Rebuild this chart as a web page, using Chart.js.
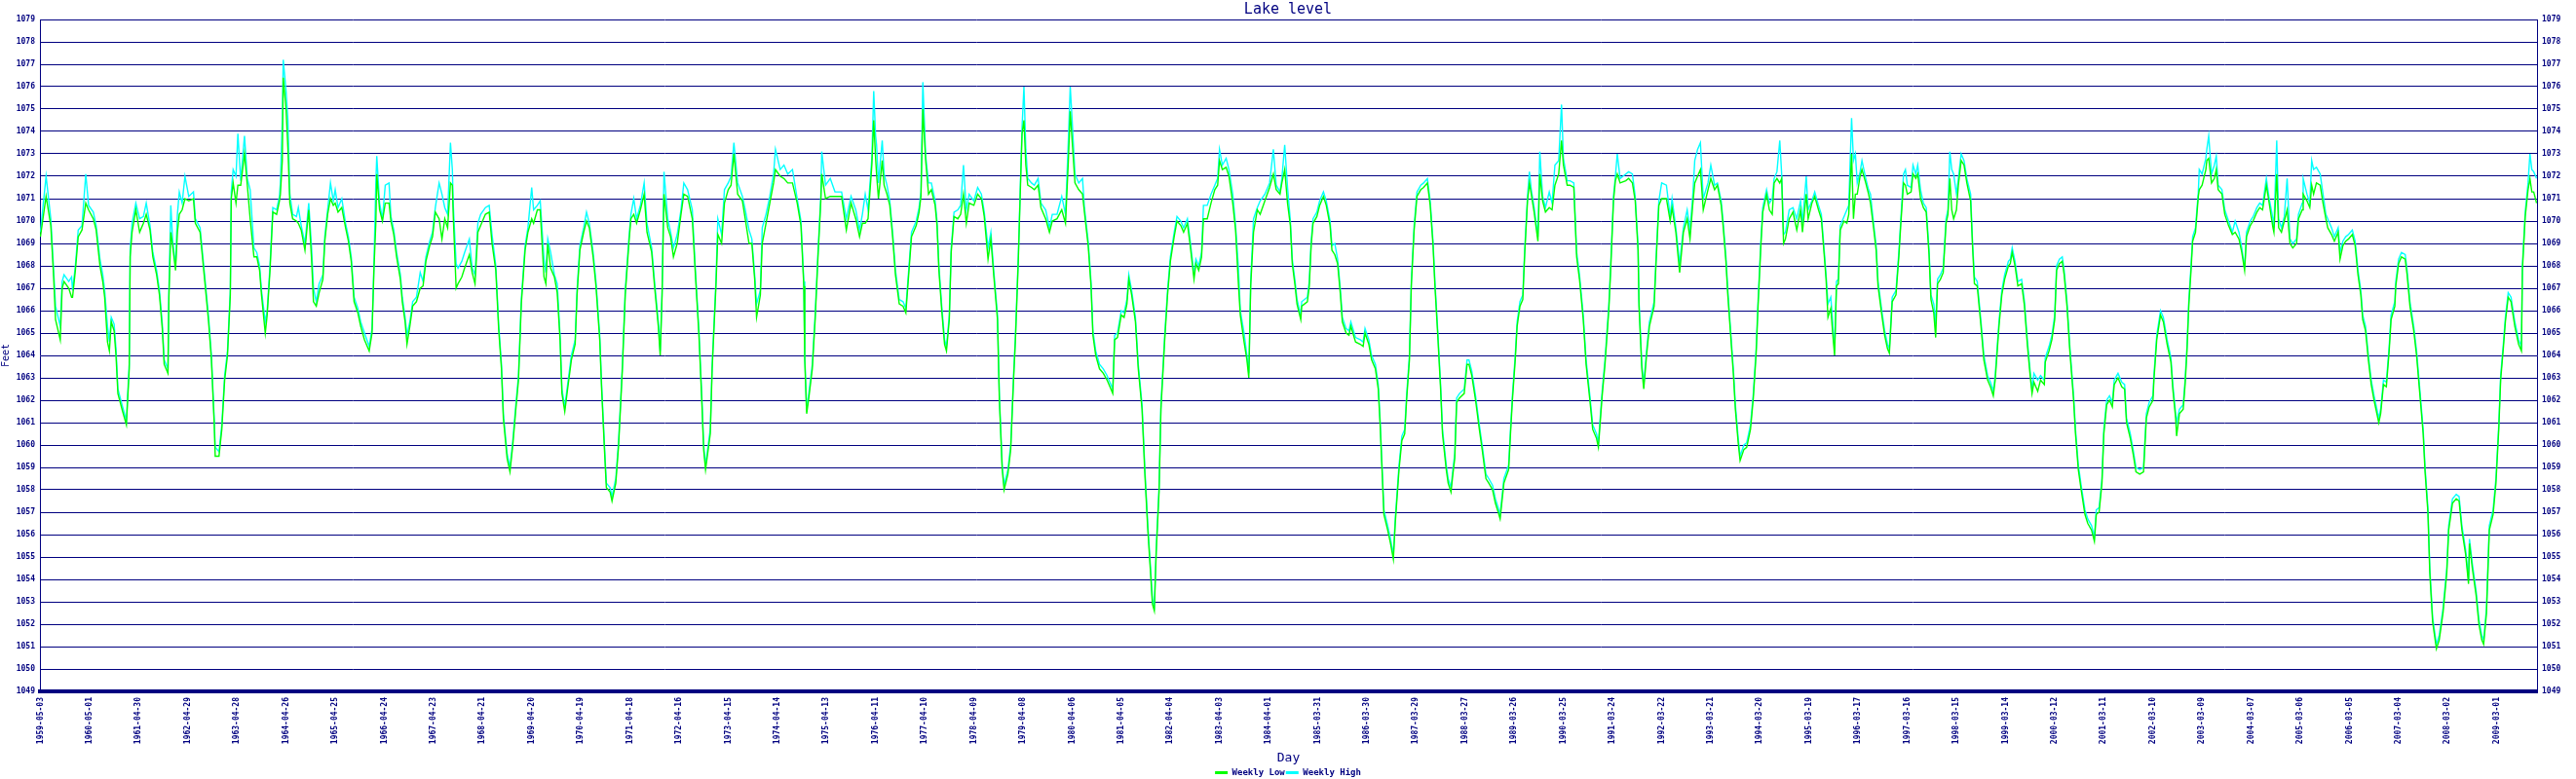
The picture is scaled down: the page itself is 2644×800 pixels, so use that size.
<!DOCTYPE html>
<html><head><meta charset="utf-8">
<script src="https://cdn.jsdelivr.net/npm/chart.js@4/dist/chart.umd.min.js"></script>
<style>html,body{margin:0;padding:0;background:#fff;}canvas{display:block;}</style>
</head><body>
<canvas id="c" width="2644" height="800"></canvas>
<script>
// x = week number counted from 1959-05-03 (weekly readings)
const weeks = [
0,6,11,14,16,21,23,25,30,33,
34,37,40,44,48,51,56,59,63,66,
68,71,73,75,78,80,82,87,91,94,
95,97,101,105,109,112,116,119,123,126,
129,131,135,136,138,140,143,145,147,150,
153,157,162,164,169,174,178,181,184,185,
189,192,195,198,201,202,204,207,209,212,
216,219,222,226,229,232,234,238,240,243,
246,250,253,254,256,257,260,262,264,267,
271,273,276,280,284,287,289,292,295,299,
301,304,307,310,312,315,319,323,326,329,
332,336,339,343,348,351,353,355,356,359,
362,365,369,371,374,377,381,383,386,388,
391,394,398,402,405,408,412,415,418,422,
425,428,431,434,436,
437,440,442,446,449,454,457,460,463,466,
471,475,478,482,485,488,490,494,497,500,
503,506,509,513,516,520,522,526,529,533,
535,537,540,544,547,550,552,555,558,562,
566,568,571,575,578,581,585,588,592,594,
597,599,603,605,609,612,616,619,623,625,
628,631,635,639,642,647,650,654,656,658,
660,664,667,670,674,678,681,685,690,693,
697,700,702,704,709,711,715,717,721,724,
728,731,734,738,743,746,750,753,756,758,
762,764,768,772,776,778,783,787,791,796,
801,805,808,809,811,813,817,820,823,826,
827,831,836,841,848,853,858,863,867,870,
873,876,880,882,884,
885,887,891,893,896,899,902,905,909,913,
916,919,922,927,930,932,934,937,940,943,
947,949,951,954,957,959,962,964,967,971,
974,977,980,983,988,992,996,999,1003,1006,
1009,1013,1015,1018,1020,1024,1027,1030,1032,1035,
1037,1039,1041,1043,1045,1049,1052,1056,1059,1064,
1068,1071,1076,1081,1085,1088,1090,1092,1095,1099,
1103,1105,1109,1112,1114,1117,1121,1125,1129,1135,
1137,1140,1144,1147,1150,1152,1155,1159,1162,1166,
1169,1172,1175,1177,1179,1181,1184,1186,1190,1193,
1196,1200,1203,1207,1210,1214,1217,1221,1223,1226,
1229,1231,1235,1239,1243,1246,1248,1251,1255,1258,
1262,1265,1268,1270,1274,1277,1279,1281,1284,1288,
1291,1296,1301,1305,1308,1312,1314,1317,
1320,1323,1325,1328,1330,1334,1335,1341,1343,1345,
1347,1351,1354,1358,1361,1365,1367,1370,1373,1376,
1378,1382,1385,1387,1392,1397,1400,1402,1406,1409,
1413,1416,1418,1420,1422,1426,1429,1432,1434,1438,
1441,1444,1446,1449,1451,1454,1457,1461,1464,1468,
1471,1474,1476,1479,1482,1484,1488,1490,1493,1495,
1497,1499,1502,1507,1510,1512,1515,1519,1523,1526,
1530,1533,1537,1540,1543,1545,1549,1554,1556,1558,
1561,1563,1566,1569,1571,1574,1576,1578,1581,1585,
1587,1590,1593,1597,1600,1603,1607,1610,1612,1616,
1619,1623,1626,1629,1633,1636,1640,1643,1647,1649,
1653,1656,1660,1662,1665,1667,1669,1672,1678,1681,
1685,1688,1691,1692,1695,1697,1700,1703,1708,1710,
1713,1716,1721,1725,1727,1731,1735,1739,1743,1746,
1749,1751,1754,1757,1760,
1765,1768,1772,1775,1779,1781,1784,1786,1789,1792,
1794,1797,1799,1803,1806,1810,1813,1816,1818,1821,
1823,1827,1830,1833,1835,1838,1841,1843,1845,1847,
1851,1855,1859,1863,1865,1869,1871,1875,1878,1882,
1885,1888,1890,1892,1895,1897,1899,1901,1903,1905,
1909,1912,1914,1917,1919,1921,1923,1926,1928,1932,
1935,1937,1940,1943,1945,1949,1952,1955,1957,1960,
1964,1967,1969,1972,1974,1976,1980,1982,1985,1987,
1990,1993,1996,1999,2001,2004,2006,2008,2011,2014,
2017,2019,2021,2023,2025,2028,2030,2033,2036,2039,
2043,2045,2047,2050,2054,2057,2061,2064,2067,2069,
2073,2076,2079,2083,2085,2087,2090,2093,2097,2100,
2103,2106,2108,2110,2114,2117,2121,2122,2126,2129,
2132,2134,2137,2140,2142,2145,2148,2152,2154,2157,
2160,2164,2167,2171,2174,2176,2179,2182,2184,2187,
2190,2193,2195,2199,
2203,2206,2208,2212,2215,2218,2222,2226,2229,2232,
2236,2237,2240,2244,2247,2251,2255,2257,2260,2261,
2264,2268,2270,2272,2274,2276,2278,2281,2284,2285,
2288,2292,2293,2295,2298,2301,2303,2305,2309,2312,
2316,2320,2323,2327,2330,2333,2335,2339,2342,2346,
2349,2352,2356,2359,2363,2364,2367,2369,2372,2375,
2378,2381,2384,2388,2390,2394,2395,2399,2402,2404,
2406,2409,2413,2416,2419,2421,2425,2428,2432,2434,
2437,2440,2443,2447,2450,2453,2456,2458,2461,2464,
2467,2470,2473,2475,2477,2480,2483,2486,2488,2492,
2493,2496,2499,2503,2505,2508,2512,2515,2518,2522,
2524,2527,2529,2532,2536,2539,2543,2547,2549,2553,
2557,2560,2563,2567,2570,2571,2574,2578,2581,2584,
2586,2589,2592,2596,2599,2602,2604,2607,2609,2612,
2615,2619,2623,2626,2627,2630,2633,2635,2637,2639,
2642
];

const weeklyLow = [
1069.3,1071.1,1069.8,1067.5,1065.6,1064.7,1067.0,1067.3,1067.0,1066.6,
1066.6,1067.8,1069.3,1069.6,1070.8,1070.5,1070.1,1069.6,1068.0,1067.3,
1066.6,1064.6,1064.2,1065.5,1065.1,1064.0,1062.3,1061.5,1060.9,1063.4,
1068.4,1069.5,1070.5,1069.5,1069.9,1070.3,1069.6,1068.4,1067.6,1066.7,
1065.2,1063.6,1063.2,1066.6,1069.5,1068.9,1067.8,1069.5,1070.3,1070.5,
1071.0,1070.9,1071.0,1069.9,1069.5,1067.3,1065.5,1063.8,1060.9,1059.5,
1059.5,1060.7,1062.9,1064.0,1066.7,1071.0,1071.7,1070.8,1071.6,1071.6,
1073.0,1071.6,1070.1,1068.4,1068.4,1067.8,1066.7,1065.0,1065.8,1067.8,
1070.4,1070.3,1070.9,1071.2,1072.7,1076.4,1075.0,1073.2,1070.8,1070.1,
1070.0,1069.9,1069.6,1068.7,1070.5,1068.3,1066.4,1066.2,1066.8,1067.4,
1069.1,1070.3,1071.0,1070.7,1070.8,1070.4,1070.6,1069.7,1069.1,1068.2,
1066.4,1065.9,1065.3,1064.7,1064.2,1065.0,1067.8,1069.9,1072.1,1070.5,
1070.0,1070.8,1070.8,1070.0,1069.4,1068.4,1067.4,1066.4,1065.5,1064.5,
1065.3,1066.2,1066.4,1067.0,1067.1,1068.2,1068.9,1069.3,1070.4,1070.1,
1069.2,1070.1,1069.7,1071.7,1071.6,
1070.2,1067.0,1067.2,1067.5,1067.9,1068.5,1067.7,1067.2,1069.5,1069.8,
1070.3,1070.4,1069.0,1067.8,1065.2,1063.4,1061.2,1059.4,1058.8,1060.0,
1061.5,1062.9,1066.3,1068.7,1069.5,1070.1,1069.9,1070.5,1070.5,1067.5,
1067.2,1069.0,1067.9,1067.5,1066.8,1064.7,1062.3,1061.5,1062.5,1063.8,
1064.5,1066.7,1068.7,1069.5,1070.0,1069.7,1068.4,1067.1,1064.7,1062.5,
1059.8,1058.1,1057.9,1057.5,1058.3,1060.0,1063.4,1066.7,1069.1,1070.1,
1070.3,1069.9,1070.5,1071.2,1069.5,1068.6,1067.1,1065.3,1064.0,1066.7,
1071.2,1069.7,1069.3,1068.4,1069.0,1070.3,1071.2,1071.1,1070.1,1067.8,
1064.9,1062.0,1059.8,1058.9,1060.5,1063.4,1067.1,1069.4,1069.0,1070.8,
1071.4,1071.6,1073.0,1071.2,1070.9,1070.1,1069.0,1069.0,1067.4,1065.7,
1066.7,1069.0,1069.9,1070.8,1071.7,1072.3,1072.0,1071.9,1071.7,1071.7,
1070.8,1069.8,1067.1,1063.8,1061.4,1062.0,1063.4,1065.6,1068.4,1070.9,
1072.1,1071.0,1071.1,1071.1,1071.1,1069.6,1070.8,1070.1,1069.3,1069.9,
1069.9,1070.1,1072.5,1074.5,1072.8,
1072.1,1071.0,1072.7,1071.6,1071.2,1070.7,1069.3,1067.6,1066.3,1066.2,
1065.9,1067.6,1069.3,1069.8,1070.4,1071.1,1075.0,1072.7,1071.2,1071.4,
1070.7,1069.8,1067.8,1066.0,1064.5,1064.2,1065.6,1068.6,1070.2,1070.1,
1070.3,1071.2,1069.9,1070.8,1070.7,1071.2,1071.0,1070.2,1068.3,1069.2,
1067.6,1065.6,1062.0,1058.9,1058.0,1058.7,1059.8,1062.9,1064.7,1068.2,
1071.1,1073.9,1074.5,1072.5,1071.6,1071.5,1071.4,1071.6,1070.6,1070.1,
1069.5,1070.0,1070.1,1070.5,1069.9,1072.7,1074.9,1073.6,1071.7,1071.4,
1071.2,1070.4,1068.9,1067.1,1064.9,1064.0,1063.4,1063.2,1062.9,1062.3,
1064.7,1064.8,1065.8,1065.7,1066.3,1067.4,1066.7,1065.5,1063.4,1061.6,
1058.7,1056.3,1054.3,1052.9,1052.6,1055.2,1057.9,1061.6,1064.7,1066.7,
1068.2,1069.3,1070.0,1069.8,1069.5,1069.9,1068.9,1067.4,1068.1,1067.8,
1068.4,1070.1,1070.1,1070.8,1071.4,1071.6,1072.7,1072.3,1072.4,1072.0,
1070.8,1069.6,1067.2,1065.8,1064.6,1063.8,1063.0,1067.1,1069.5,1070.5,
1070.3,1070.9,1071.5,1072.1,1071.4,1071.2,1071.7,1072.3,
1070.8,1069.8,1068.1,1067.1,1066.3,1065.6,1066.2,1066.4,1067.1,1068.9,
1069.9,1070.2,1070.7,1071.1,1070.7,1069.8,1068.7,1068.5,1068.1,1066.7,
1065.5,1065.0,1064.9,1065.3,1064.6,1064.5,1064.4,1065.0,1064.5,1063.8,
1063.4,1062.5,1060.9,1058.9,1056.9,1056.2,1055.6,1054.9,1056.5,1058.9,
1060.2,1060.5,1062.0,1063.8,1067.1,1069.6,1071.1,1071.4,1071.5,1071.7,
1070.7,1068.9,1067.1,1064.9,1062.5,1060.5,1058.9,1058.3,1057.9,1058.7,
1059.4,1061.9,1062.1,1062.3,1063.6,1063.6,1063.1,1062.0,1060.7,1059.8,
1058.5,1058.3,1058.0,1057.4,1057.0,1056.7,1058.3,1058.9,1060.5,1062.0,
1063.8,1065.3,1066.2,1066.5,1068.5,1070.9,1071.7,1071.2,1070.4,1069.1,
1072.1,1070.9,1070.4,1070.6,1070.5,1071.6,1072.1,1073.6,1072.5,1071.6,
1071.6,1071.5,1068.4,1067.4,1065.6,1063.6,1062.0,1060.7,1060.3,1059.9,
1062.2,1063.6,1066.0,1067.8,1070.9,1071.8,1072.1,1071.7,1071.8,1071.9,
1071.7,1070.9,1068.7,1066.2,1063.4,1062.5,1064.0,1065.3,1066.2,1068.1,
1070.7,1071.0,1071.0,1070.0,1070.6,1069.5,1067.7,1069.5,1070.1,1069.2,
1070.8,1071.7,1072.0,1072.3,1070.5,
1071.4,1071.9,1071.4,1071.6,1070.7,1069.8,1068.2,1066.7,1064.9,1063.1,
1061.6,1060.1,1059.3,1059.8,1059.9,1060.7,1062.1,1064.1,1066.2,1068.9,
1070.4,1071.2,1070.5,1070.3,1071.7,1071.9,1071.7,1071.9,1069.0,1069.2,
1070.1,1070.4,1069.6,1070.5,1069.5,1071.2,1070.1,1070.8,1071.1,1070.5,
1070.1,1068.5,1067.4,1065.7,1066.1,1065.0,1064.0,1067.1,1067.2,1069.6,
1070.0,1069.9,1070.3,1073.0,1070.1,1071.2,1071.2,1072.0,1072.3,1071.7,
1071.2,1070.8,1069.8,1068.7,1067.1,1065.8,1064.9,1064.3,1064.1,1066.4,
1066.7,1068.4,1069.8,1071.7,1071.6,1071.2,1071.3,1072.1,1071.9,1072.1,
1071.0,1070.6,1070.4,1068.5,1066.5,1065.9,1064.8,1067.2,1067.4,1067.7,
1069.9,1070.3,1071.9,1070.5,1070.1,1070.5,1071.6,1072.7,1072.5,1071.7,
1070.9,1068.9,1067.2,1067.1,1065.3,1063.8,1062.9,1062.6,1062.2,1062.9,
1065.3,1066.7,1067.4,1068.0,1068.1,1068.6,1068.0,1067.1,1067.2,1066.2,
1064.5,1063.1,1062.3,1062.8,1062.4,1062.9,1062.7,1063.7,1064.2,1064.7,
1065.6,1067.8,1068.1,1068.2,1067.6,1066.2,1064.2,1062.0,1060.5,1058.9,
1058.0,1056.9,1056.5,1056.2,1055.7,1056.9,1057.0,1058.3,1060.5,1061.8,
1062.0,1061.7,1062.7,1063.0,
1062.6,1062.5,1061.0,1060.3,1059.6,1058.8,1058.7,1058.8,1061.2,1061.7,
1062.0,1062.9,1064.7,1065.8,1065.5,1064.5,1063.7,1062.5,1061.2,1060.4,
1061.4,1061.6,1062.7,1064.2,1066.3,1067.6,1069.1,1069.5,1071.1,1071.4,
1071.6,1072.3,1072.7,1072.8,1071.7,1071.9,1072.3,1071.4,1071.2,1070.3,
1069.8,1069.4,1069.5,1069.2,1068.6,1067.8,1069.3,1069.8,1070.0,1070.4,
1070.6,1070.5,1071.6,1070.8,1069.7,1069.5,1072.1,1069.7,1069.5,1070.0,
1070.5,1069.0,1068.8,1069.0,1070.1,1070.5,1071.2,1070.9,1070.6,1071.6,
1071.2,1071.7,1071.6,1070.8,1070.1,1069.7,1069.4,1069.1,1069.5,1068.3,
1068.9,1069.1,1069.2,1069.4,1068.9,1067.6,1066.7,1065.6,1065.1,1063.8,
1062.7,1062.0,1061.4,1061.0,1061.4,1062.7,1062.6,1064.2,1065.6,1066.2,
1067.1,1068.1,1068.4,1068.3,1067.6,1066.2,1065.1,1064.0,1062.5,1060.5,
1058.8,1057.0,1054.3,1052.1,1050.9,1051.3,1052.5,1054.3,1056.2,1057.4,
1057.6,1057.5,1056.2,1055.1,1053.8,1055.6,1054.5,1053.3,1052.0,1051.3,
1051.1,1052.5,1056.2,1056.9,1058.3,1060.7,1062.9,1064.4,1065.5,1066.6,
1066.4,1065.3,1064.5,1064.2,1067.8,1070.2,1071.4,1071.9,1071.3,1071.3,
1070.8
];

const weeklyHigh = [
1069.5,1072.0,1070.1,1067.8,1066.2,1065.3,1067.3,1067.6,1067.3,1067.5,
1066.9,1068.0,1069.6,1069.8,1072.1,1070.7,1070.4,1069.8,1068.3,1067.6,
1066.9,1065.3,1064.6,1065.7,1065.4,1064.3,1062.5,1061.7,1061.1,1063.6,
1068.7,1069.9,1070.8,1070.1,1070.2,1070.8,1069.8,1068.6,1067.8,1066.9,
1065.4,1063.8,1063.4,1066.9,1070.7,1069.1,1068.0,1070.3,1071.3,1070.8,
1072.0,1071.1,1071.3,1070.1,1069.7,1067.5,1065.7,1064.0,1061.1,1059.9,
1059.7,1060.9,1063.1,1064.2,1066.9,1071.3,1072.3,1072.0,1073.9,1071.8,
1073.8,1071.9,1071.4,1068.8,1068.6,1068.0,1066.9,1065.5,1066.0,1068.0,
1070.6,1070.5,1071.1,1071.7,1074.5,1077.2,1075.8,1074.5,1071.2,1070.3,
1070.2,1070.6,1069.8,1069.0,1070.8,1068.8,1067.0,1066.4,1067.2,1067.6,
1069.3,1070.5,1071.7,1070.9,1071.4,1070.6,1071.0,1069.9,1069.3,1068.4,
1066.6,1066.1,1065.5,1065.0,1064.4,1065.2,1068.0,1071.7,1072.9,1070.8,
1070.1,1071.6,1071.7,1070.2,1069.6,1068.6,1067.6,1066.6,1065.7,1064.9,
1065.5,1066.4,1066.6,1067.7,1067.3,1068.4,1069.1,1069.5,1070.6,1071.7,
1071.2,1070.6,1070.3,1073.5,1072.3,
1070.7,1068.1,1067.9,1068.2,1068.6,1069.2,1067.9,1067.6,1069.9,1070.3,
1070.6,1070.7,1069.4,1068.0,1065.4,1063.6,1061.4,1059.6,1059.0,1060.2,
1061.7,1063.1,1066.5,1068.9,1069.7,1071.5,1070.5,1070.7,1070.9,1068.3,
1067.7,1069.2,1068.6,1067.6,1067.2,1064.9,1062.5,1061.7,1062.7,1064.0,
1064.7,1066.9,1068.9,1069.7,1070.4,1069.9,1068.6,1067.3,1064.9,1062.7,
1060.0,1058.3,1058.1,1057.7,1058.5,1060.2,1063.6,1066.9,1069.3,1070.3,
1071.0,1070.1,1070.7,1071.7,1069.9,1068.8,1067.3,1065.5,1064.2,1066.9,
1072.2,1070.1,1069.5,1068.8,1069.4,1070.5,1071.7,1071.4,1070.5,1068.0,
1065.1,1062.2,1060.0,1059.1,1060.7,1063.6,1067.3,1070.1,1069.4,1071.4,
1071.7,1072.0,1073.5,1071.7,1071.1,1070.5,1069.6,1069.2,1067.6,1066.3,
1066.9,1069.7,1070.3,1071.1,1072.1,1073.2,1072.3,1072.5,1072.1,1072.3,
1071.0,1070.0,1067.3,1064.0,1061.6,1062.2,1063.6,1065.8,1068.6,1071.1,
1073.1,1071.6,1071.9,1071.3,1071.3,1070.1,1071.1,1070.5,1069.6,1070.3,
1071.2,1070.5,1072.8,1075.8,1073.8,
1073.4,1071.7,1073.6,1072.1,1071.6,1070.9,1069.5,1067.8,1066.5,1066.4,
1066.1,1067.8,1069.5,1070.0,1070.6,1071.3,1076.2,1072.9,1071.7,1071.7,
1070.9,1070.0,1068.0,1066.2,1064.7,1064.4,1065.8,1068.8,1070.4,1070.5,
1070.7,1072.5,1070.5,1071.2,1070.9,1071.5,1071.2,1070.4,1068.8,1069.5,
1067.8,1065.8,1062.2,1059.1,1058.2,1058.9,1060.0,1063.1,1064.9,1068.4,
1071.3,1074.2,1076.0,1073.2,1071.9,1071.7,1071.6,1071.9,1070.8,1070.5,
1069.7,1070.3,1070.3,1071.1,1070.3,1073.6,1076.0,1074.5,1072.1,1071.7,
1071.9,1070.6,1069.1,1067.3,1065.1,1064.2,1063.6,1063.4,1063.1,1062.5,
1064.9,1065.0,1066.0,1065.9,1066.5,1067.6,1066.9,1065.7,1063.6,1061.8,
1058.9,1056.5,1054.5,1053.1,1052.8,1055.4,1058.1,1061.8,1064.9,1066.9,
1068.4,1069.5,1070.2,1070.0,1069.7,1070.1,1069.1,1067.6,1068.3,1068.0,
1068.6,1070.7,1070.7,1071.2,1071.6,1071.9,1073.2,1072.5,1072.8,1072.3,
1071.2,1069.8,1067.9,1066.0,1065.0,1064.0,1063.2,1067.3,1070.1,1070.6,
1070.9,1071.2,1071.7,1073.2,1071.6,1071.3,1071.9,1073.4,
1071.5,1070.0,1068.3,1067.3,1066.5,1065.8,1066.4,1066.6,1067.3,1069.1,
1070.1,1070.4,1070.9,1071.3,1070.9,1070.0,1068.9,1069.0,1068.3,1066.9,
1065.7,1065.2,1065.1,1065.5,1064.8,1064.7,1064.6,1065.2,1064.7,1064.0,
1063.6,1062.7,1061.1,1059.1,1057.1,1056.4,1055.8,1055.1,1056.7,1059.1,
1060.4,1060.7,1062.2,1064.0,1067.3,1069.8,1071.3,1071.6,1071.7,1071.9,
1070.9,1069.1,1067.3,1065.1,1062.7,1060.7,1059.1,1058.5,1058.1,1058.9,
1059.6,1062.1,1062.3,1062.5,1063.8,1063.8,1063.3,1062.2,1060.9,1060.0,
1058.7,1058.5,1058.2,1057.6,1057.2,1056.9,1058.5,1059.1,1060.7,1062.2,
1064.0,1065.5,1066.4,1066.7,1068.7,1071.1,1072.2,1071.4,1070.6,1069.3,
1073.1,1071.1,1070.6,1071.3,1070.8,1072.5,1072.7,1075.2,1072.8,1071.8,
1071.8,1071.7,1068.6,1067.6,1065.8,1063.8,1062.2,1060.9,1060.5,1060.1,
1062.4,1063.8,1066.2,1068.0,1071.1,1072.0,1073.0,1071.9,1072.1,1072.2,
1072.1,1071.1,1068.9,1066.4,1063.6,1062.7,1064.2,1065.5,1066.4,1068.3,
1070.9,1071.7,1071.6,1070.2,1071.0,1069.7,1068.1,1069.7,1070.5,1069.6,
1071.2,1072.7,1073.2,1073.5,1071.0,
1071.7,1072.5,1071.6,1071.7,1070.9,1070.0,1068.4,1066.9,1065.1,1063.3,
1061.8,1060.3,1059.5,1060.0,1060.1,1060.9,1062.3,1064.3,1066.4,1069.1,
1070.6,1071.4,1070.8,1071.0,1071.9,1072.2,1073.6,1072.1,1069.4,1069.5,
1070.5,1070.6,1070.1,1070.9,1069.9,1072.0,1070.5,1070.9,1071.3,1070.7,
1070.3,1068.7,1067.6,1066.3,1066.6,1065.5,1064.2,1067.3,1067.4,1069.8,
1070.2,1070.5,1070.7,1074.6,1072.7,1073.0,1071.7,1072.2,1072.7,1071.9,
1071.4,1071.2,1070.0,1068.9,1067.3,1066.0,1065.1,1064.5,1064.3,1066.6,
1066.9,1068.6,1070.0,1072.1,1072.3,1071.6,1071.5,1072.5,1072.1,1072.5,
1071.4,1070.8,1070.6,1068.7,1066.7,1066.3,1065.4,1067.4,1067.6,1067.9,
1070.1,1070.5,1073.1,1072.3,1072.1,1071.2,1071.9,1073.0,1072.7,1071.9,
1071.2,1069.1,1067.5,1067.3,1065.5,1064.0,1063.1,1062.8,1062.4,1063.1,
1065.5,1066.9,1067.6,1068.2,1068.3,1068.8,1068.2,1067.3,1067.4,1066.4,
1064.7,1063.3,1062.5,1063.2,1062.9,1063.1,1062.9,1063.9,1064.4,1064.9,
1065.8,1068.0,1068.3,1068.4,1067.8,1066.4,1064.4,1062.2,1060.7,1059.1,
1058.2,1057.1,1056.7,1056.4,1055.9,1057.1,1057.2,1058.5,1060.7,1062.0,
1062.2,1061.9,1062.9,1063.2,
1062.8,1062.7,1061.2,1060.5,1059.8,1059.0,1058.9,1059.0,1061.4,1061.9,
1062.2,1063.1,1064.9,1066.0,1065.7,1064.7,1063.9,1062.7,1061.4,1061.0,
1061.6,1061.8,1062.9,1064.4,1066.5,1067.8,1069.3,1069.7,1071.3,1072.3,
1072.1,1072.8,1073.2,1073.8,1072.1,1072.5,1072.9,1071.6,1071.4,1070.5,
1070.0,1069.5,1070.0,1069.5,1068.8,1067.9,1069.5,1070.0,1070.2,1070.6,
1070.8,1070.7,1071.9,1071.0,1070.1,1069.7,1073.6,1070.1,1069.7,1070.2,
1071.9,1069.2,1069.0,1069.2,1070.3,1070.8,1071.9,1071.2,1070.8,1072.7,
1072.3,1072.4,1072.1,1071.2,1070.3,1070.1,1069.7,1069.3,1069.7,1068.6,
1069.1,1069.3,1069.4,1069.6,1069.1,1067.8,1066.9,1065.8,1065.3,1064.0,
1062.9,1062.2,1061.6,1061.2,1061.6,1062.9,1062.8,1064.4,1065.8,1066.4,
1067.3,1068.3,1068.6,1068.5,1067.8,1066.4,1065.3,1064.2,1062.7,1060.7,
1059.0,1057.2,1054.5,1052.3,1051.1,1051.5,1052.7,1054.5,1056.4,1057.6,
1057.8,1057.7,1056.4,1055.3,1054.0,1055.8,1054.7,1053.5,1052.2,1051.5,
1051.3,1052.7,1056.4,1057.1,1058.5,1060.9,1063.1,1064.6,1065.7,1066.8,
1066.6,1065.5,1064.7,1064.4,1068.0,1070.4,1071.7,1073.0,1072.3,1072.2,
1071.9
];

// x-axis labels, one every 52 weeks starting at week 0
const tickLabels = [
'1959-05-03','1960-05-01','1961-04-30','1962-04-29','1963-04-28','1964-04-26','1965-04-25','1966-04-24',
'1967-04-23','1968-04-21','1969-04-20','1970-04-19','1971-04-18','1972-04-16','1973-04-15','1974-04-14',
'1975-04-13','1976-04-11','1977-04-10','1978-04-09','1979-04-08','1980-04-06','1981-04-05','1982-04-04',
'1983-04-03','1984-04-01','1985-03-31','1986-03-30','1987-03-29','1988-03-27','1989-03-26','1990-03-25',
'1991-03-24','1992-03-22','1993-03-21','1994-03-20','1995-03-19','1996-03-17','1997-03-16','1998-03-15',
'1999-03-14','2000-03-12','2001-03-11','2002-03-10','2003-03-09','2004-03-07','2005-03-06','2006-03-05',
'2007-03-04','2008-03-02','2009-03-01'
];
const tickStepWeeks = 52;
const lastWeek = 2642;
const yMin = 1049, yMax = 1079;

if (weeks.length !== weeklyLow.length || weeks.length !== weeklyHigh.length) {
  throw new Error('length mismatch ' + weeks.length + ' ' + weeklyLow.length + ' ' + weeklyHigh.length);
}

const NAVY = '#000080';
const MONO = "'DejaVu Sans Mono', 'Liberation Mono', monospace";
const tickFont = {family: MONO, size: 8, weight: 'bold'};
const plainNumber = (v) => String(v);

const chart = new Chart(document.getElementById('c'), {
  type: 'line',
  data: {
    datasets: [
      {label: 'Weekly Low', data: weeks.map((w, i) => ({x: w, y: weeklyLow[i]})),
       borderColor: '#00ff00', backgroundColor: '#00ff00', borderWidth: 1.4,
       pointRadius: 0, tension: 0, fill: false},
      {label: 'Weekly High', data: weeks.map((w, i) => ({x: w, y: weeklyHigh[i]})),
       borderColor: '#00ffff', backgroundColor: '#00ffff', borderWidth: 1.4,
       pointRadius: 0, tension: 0, fill: false}
    ]
  },
  options: {
    responsive: false, animation: false, devicePixelRatio: 1,
    layout: {padding: 0},
    plugins: {
      tooltip: {enabled: false},
      title: {display: true, text: 'Lake level', color: NAVY,
              font: {family: MONO, size: 15, weight: 'normal', lineHeight: 1.2},
              padding: {top: 1, bottom: 1}},
      legend: {
        position: 'bottom', maxHeight: 12,
        labels: {
          usePointStyle: true, pointStyle: 'line', pointStyleWidth: 13, boxHeight: 9,
          color: NAVY, font: {family: MONO, size: 9, weight: 'bold'}, padding: 1,
          generateLabels: (ch) => Chart.defaults.plugins.legend.labels.generateLabels(ch)
            .map(l => Object.assign(l, {lineWidth: 3}))
        }
      }
    },
    scales: {
      x: {
        type: 'linear', min: -0.5, max: lastWeek + 0.5,
        grid: {display: false, drawTicks: false},
        border: {display: true, color: NAVY, width: 4},
        afterBuildTicks: (s) => { s.ticks = tickLabels.map((_, i) => ({value: i * tickStepWeeks})); },
        ticks: {autoSkip: false, maxRotation: 90, minRotation: 90, padding: 6, color: NAVY, font: tickFont,
                callback: (v) => tickLabels[Math.round(v / tickStepWeeks)]},
        title: {display: true, text: 'Day', color: NAVY, font: {family: MONO, size: 13}, padding: {top: 0, bottom: 2}},
        afterFit: (s) => { s.height = 78; }
      },
      y: {
        position: 'left', min: yMin, max: yMax,
        ticks: {stepSize: 1, padding: 5, color: NAVY, font: tickFont, callback: plainNumber},
        grid: {color: NAVY, lineWidth: 1, drawTicks: false},
        border: {display: true, color: NAVY, width: 1},
        title: {display: true, text: 'Feet', color: NAVY, font: {family: MONO, size: 10}, padding: 0},
        afterFit: (s) => { s.width = 41; }
      },
      y2: {
        position: 'right', min: yMin, max: yMax,
        ticks: {stepSize: 1, padding: 5, color: NAVY, font: tickFont, callback: plainNumber},
        grid: {display: false, drawTicks: false},
        border: {display: true, color: NAVY, width: 1},
        afterFit: (s) => { s.width = 40; }
      }
    }
  }
});
</script>
</body></html>
